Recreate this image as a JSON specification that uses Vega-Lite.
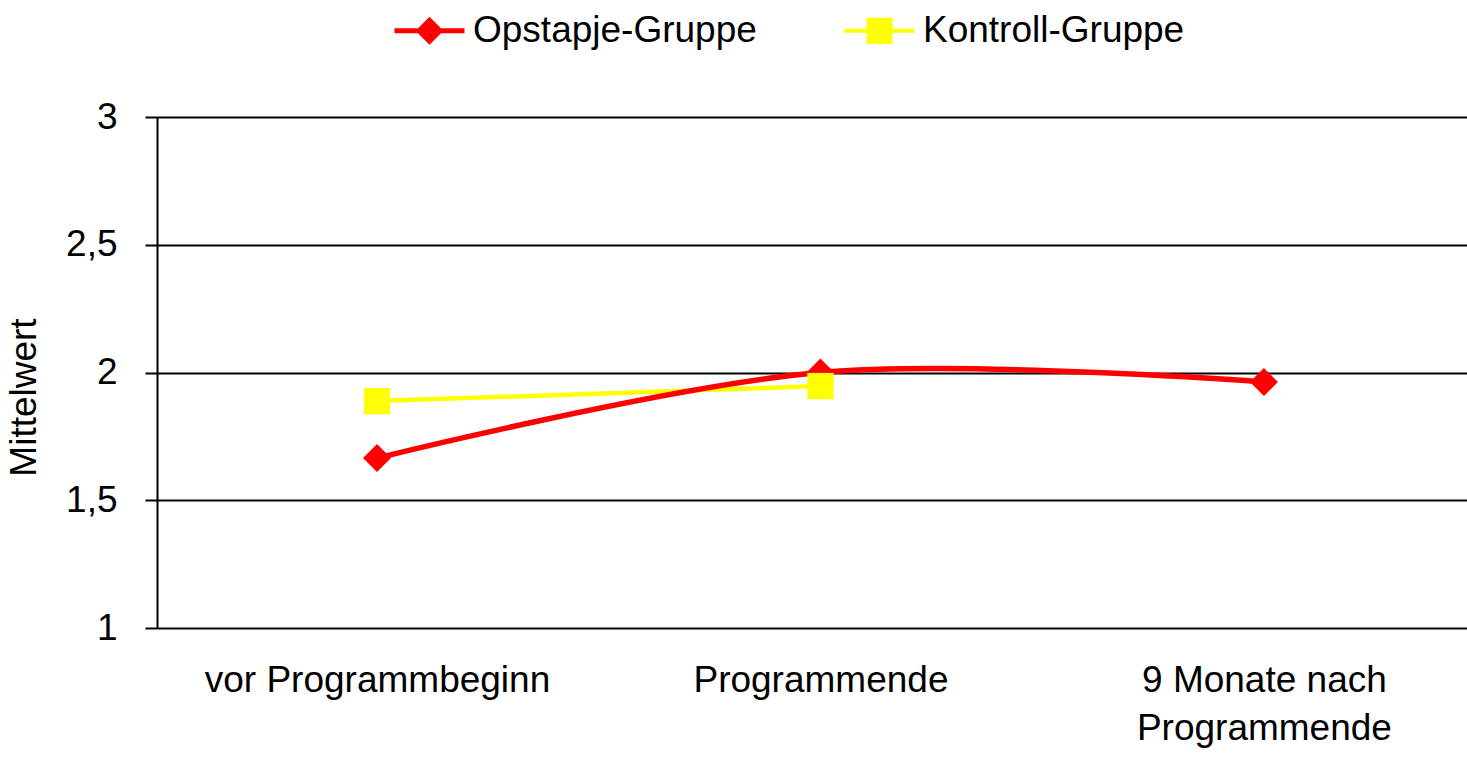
{
  "$schema": "https://vega.github.io/schema/vega-lite/v6.json",
  "width": 1310,
  "height": 511,
  "autosize": "none",
  "padding": {"left": 157, "top": 117, "right": 0, "bottom": 129},
  "background": "white",
  "config": {
    "view": {"stroke": null},
    "font": "Liberation Sans",
    "axis": {"labelFont": "Liberation Sans", "titleFont": "Liberation Sans", "labelColor": "black", "titleColor": "black"},
    "legend": {"labelFont": "Liberation Sans", "labelColor": "black"}
  },
  "data": {
    "values": [
      {"Zeitpunkt": "vor Programmbeginn", "Gruppe": "Opstapje-Gruppe", "Mittelwert": 1.665},
      {"Zeitpunkt": "Programmende", "Gruppe": "Opstapje-Gruppe", "Mittelwert": 2.0},
      {"Zeitpunkt": "9 Monate nach Programmende", "Gruppe": "Opstapje-Gruppe", "Mittelwert": 1.963},
      {"Zeitpunkt": "vor Programmbeginn", "Gruppe": "Kontroll-Gruppe", "Mittelwert": 1.888},
      {"Zeitpunkt": "Programmende", "Gruppe": "Kontroll-Gruppe", "Mittelwert": 1.947}
    ]
  },
  "encoding": {
    "x": {
      "field": "Zeitpunkt",
      "type": "nominal",
      "sort": ["vor Programmbeginn", "Programmende", "9 Monate nach Programmende"],
      "scale": {"type": "point", "padding": 0.477, "align": 0.52},
      "axis": {
        "title": null,
        "domain": false,
        "ticks": false,
        "tickSize": 0,
        "grid": false,
        "labelAngle": 0,
        "labelFontSize": 37,
        "labelLimit": 0,
        "labelPadding": 34,
        "labelLineHeight": 48,
        "labelBaseline": "top",
        "labelExpr": "datum.value == '9 Monate nach Programmende' ? ['9 Monate nach', 'Programmende'] : datum.value"
      }
    },
    "y": {
      "field": "Mittelwert",
      "type": "quantitative",
      "scale": {"domain": [1, 3], "nice": false, "zero": false},
      "axis": {
        "title": "Mittelwert",
        "titleFontSize": 37,
        "titleFontWeight": "normal",
        "titlePadding": 22,
        "titleY": 280,
        "values": [1, 1.5, 2, 2.5, 3],
        "labelExpr": "replace(toString(datum.value), '.', ',')",
        "labelFontSize": 37,
        "labelPadding": 28,
        "tickSize": 12,
        "tickColor": "black",
        "tickWidth": 2,
        "domainColor": "black",
        "domainWidth": 2,
        "grid": true,
        "gridColor": "black",
        "gridWidth": 2,
        "gridOpacity": 1
      }
    }
  },
  "layer": [
    {
      "transform": [{"filter": "datum.Gruppe == 'Kontroll-Gruppe'"}],
      "mark": {"type": "line", "color": "#ffff00", "strokeWidth": 4.5, "interpolate": "catmull-rom"}
    },
    {
      "transform": [{"filter": "datum.Gruppe == 'Opstapje-Gruppe'"}],
      "mark": {"type": "line", "color": "#ff0000", "strokeWidth": 5.5, "interpolate": "catmull-rom"}
    },
    {
      "transform": [{"filter": "datum.Gruppe == 'Opstapje-Gruppe'"}],
      "mark": {"type": "point", "shape": "diamond", "color": "#ff0000", "filled": true, "opacity": 1, "size": 784, "strokeWidth": 0}
    },
    {
      "transform": [{"filter": "datum.Gruppe == 'Kontroll-Gruppe'"}],
      "mark": {"type": "point", "shape": "square", "color": "#ffff00", "filled": true, "opacity": 1, "size": 690, "strokeWidth": 0}
    },
    {
      "mark": {"type": "point", "filled": true, "opacity": 0, "size": 784, "strokeWidth": 0},
      "encoding": {
        "shape": {
          "field": "Gruppe",
          "type": "nominal",
          "scale": {
            "domain": ["Opstapje-Gruppe", "Kontroll-Gruppe"],
            "range": [
              "M-2.5,-0.18L2.5,-0.18L2.5,0.18L-2.5,0.18Z M-1,0L0,-1L1,0L0,1Z",
              "M-2.5,-0.15L2.5,-0.15L2.5,0.15L-2.5,0.15Z M-0.93,-0.93L0.93,-0.93L0.93,0.93L-0.93,0.93Z"
            ]
          },
          "legend": {
            "title": null,
            "orient": "none",
            "direction": "horizontal",
            "legendX": 254,
            "legendY": -105,
            "padding": 0,
            "labelFontSize": 37,
            "labelLimit": 0,
            "labelOffset": 25,
            "columnPadding": 87,
            "symbolOpacity": 1,
            "symbolSize": 784,
            "symbolStrokeWidth": 0
          }
        },
        "color": {
          "field": "Gruppe",
          "type": "nominal",
          "scale": {"domain": ["Opstapje-Gruppe", "Kontroll-Gruppe"], "range": ["#ff0000", "#ffff00"]},
          "legend": {
            "title": null,
            "orient": "none",
            "direction": "horizontal",
            "legendX": 254,
            "legendY": -105,
            "padding": 0,
            "labelFontSize": 37,
            "labelLimit": 0,
            "labelOffset": 25,
            "columnPadding": 87,
            "symbolOpacity": 1,
            "symbolSize": 784,
            "symbolStrokeWidth": 0
          }
        }
      }
    }
  ]
}
